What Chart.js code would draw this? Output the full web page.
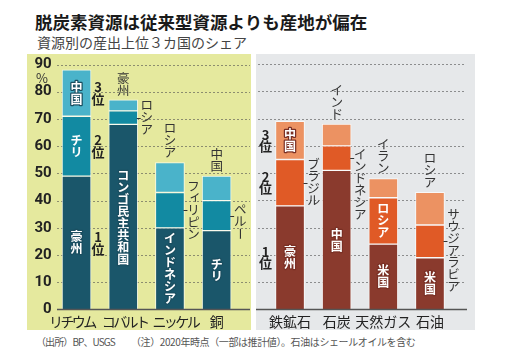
<!DOCTYPE html>
<html><head><meta charset="utf-8">
<script src="https://cdn.jsdelivr.net/npm/chart.js@4"></script>
<style>
html,body{margin:0;padding:0;background:#fff;width:512px;height:357px;overflow:hidden;font-family:"Noto Sans CJK JP",sans-serif;}
#title{position:absolute;left:35px;top:12px;font-size:17.5px;font-weight:bold;line-height:20px;color:#1a1a1a;white-space:nowrap;}
#subtitle{position:absolute;left:37px;top:33px;font-size:14px;line-height:18px;color:#444;white-space:nowrap;}
.panel{position:absolute;top:54px;height:276px;}
#pl{left:27px;width:224px;background:#e5e99e;}
#pr{left:256px;width:219px;background:#e6e8ea;}
.foot{position:absolute;top:335px;font-size:10px;line-height:14px;color:#555;white-space:nowrap;letter-spacing:-0.4px}
canvas{display:block}
</style></head><body>
<div id="title">脱炭素資源は従来型資源よりも産地が偏在</div>
<div id="subtitle">資源別の産出上位３カ国のシェア</div>
<div class="panel" id="pl"><canvas id="cl" width="224" height="276"></canvas></div>
<div class="panel" id="pr"><canvas id="cr" width="219" height="276"></canvas></div>
<div class="foot" style="left:36px;letter-spacing:-0.9px">（出所）BP、USGS</div>
<div class="foot" style="left:131px">（注）2020年時点（一部は推計値）。石油はシェールオイルを含む</div>
<script>
// ---- data ----
const yTicks = [0,10,20,30,40,50,60,70,80,90];
const rankLabels = ['1位','2位','3位'];
const leftCategories = ['リチウム','コバルト','ニッケル','銅'];
const leftRank1 = [49, 68, 30, 29];
const leftRank2 = [22, 5, 13, 11];
const leftRank3 = [17, 4, 11, 9];
const leftCountry1 = ['豪州','コンゴ民主共和国','インドネシア','チリ'];
const leftCountry2 = ['チリ','ロシア','フィリピン','ペルー'];
const leftCountry3 = ['中国','豪州','ロシア','中国'];
const rightCategories = ['鉄鉱石','石炭','天然ガス','石油'];
const rightRank1 = [38, 51, 24, 19];
const rightRank2 = [17, 9, 17, 12];
const rightRank3 = [14, 8, 7, 12];
const rightCountry1 = ['豪州','中国','米国','米国'];
const rightCountry2 = ['ブラジル','インドネシア','ロシア','サウジアラビア'];
const rightCountry3 = ['中国','インド','イラン','ロシア'];

const FONT = '"Noto Sans CJK JP", "Noto Sans", sans-serif';
const SMALL = 'ァィゥェォッャュョ';
const KATA = /^[\u30A0-\u30FF]+$/;

function drawVert(ctx, text, cx, top, step, stroke){
  Array.from(text).forEach((ch,i)=>{
    const cy = top + step*(i+0.5);
    ctx.save();
    ctx.translate(cx, cy);
    if (ch === 'ー') ctx.rotate(Math.PI/2);
    else if (SMALL.includes(ch)) ctx.translate(step*0.14, -step*0.14);
    if (stroke) ctx.strokeText(ch,0,0);
    ctx.fillText(ch,0,0);
    ctx.restore();
  });
}

function makeChart(id, cats, r1, r2, r3, names, colors, o){
  const deco = {
    id:'deco'+id,
    beforeDatasetsDraw(chart){
      const ctx = chart.ctx, y = chart.scales.y;
      ctx.save();
      ctx.setLineDash([2,2]);
      ctx.strokeStyle = 'rgba(80,80,80,0.6)';
      ctx.lineWidth = 1;
      yTicks.forEach(v=>{
        if (v === 0) return;
        const py = Math.round(y.getPixelForValue(v)) + 0.5;
        ctx.beginPath(); ctx.moveTo(o.grid[0], py); ctx.lineTo(o.grid[1], py); ctx.stroke();
      });
      ctx.restore();
    },
    afterDatasetsDraw(chart){
      const ctx = chart.ctx, y = chart.scales.y, x = chart.scales.x;
      ctx.save();
      ctx.strokeStyle = '#555'; ctx.lineWidth = 1.5;
      const p0 = y.getPixelForValue(0);
      ctx.beginPath(); ctx.moveTo(o.base[0], p0); ctx.lineTo(o.base[1], p0); ctx.stroke();
      ctx.textAlign = 'center'; ctx.textBaseline = 'middle';
      // category labels, placed by the x scale
      ctx.fillStyle = '#222';
      ctx.font = '14px ' + FONT;
      x.getLabels().forEach((lab, i)=>{
        const kata = KATA.test(lab);
        ctx.letterSpacing = kata ? '-2.6px' : '0px';
        ctx.fillText(lab, x.getPixelForValue(i) + o.catShift[i] + (kata ? 1.3 : 0), p0 + 12.5);
      });
      ctx.letterSpacing = '0px';
      if (o.percent){
        ctx.fillStyle = '#333';
        ctx.font = '13px ' + FONT;
        ctx.fillText('%', 15, y.getPixelForValue(90) + 14);
      }
      const step = 12;
      [0,1,2].forEach(d=>{
        const meta = chart.getDatasetMeta(d);
        meta.data.forEach((el, i)=>{
          const name = names[d][i];
          const n = Array.from(name).length;
          const top = Math.min(el.y, el.base), bot = Math.max(el.y, el.base);
          const h = bot - top, mid = (top + bot)/2;
          const half = el.width/2;
          if (d === 0 || n*step + 6 <= h){
            ctx.font = 'bold 12px ' + FONT;
            ctx.fillStyle = '#fff';
            ctx.strokeStyle = o.dark; ctx.lineWidth = 2.5; ctx.lineJoin = 'round';
            drawVert(ctx, name, el.x, mid - n*step/2, step, d !== 1);
          } else if (d === 1){
            ctx.strokeStyle = '#333'; ctx.lineWidth = 1;
            ctx.beginPath(); ctx.moveTo(el.x + half - 1, Math.round(mid)+0.5); ctx.lineTo(el.x + half + 3, Math.round(mid)+0.5); ctx.stroke();
            ctx.font = '12.5px ' + FONT; ctx.fillStyle = '#333';
            drawVert(ctx, name, el.x + half + 9, mid + o.nudge[i] - n*step/2, step, false);
          } else {
            ctx.font = '12.5px ' + FONT; ctx.fillStyle = '#333';
            drawVert(ctx, name, el.x, top - 4 - n*step, step, false);
          }
          if (i === 0){
            const rx = o.rankSide === 'right' ? el.x + half + 7 : el.x - half - 10;
            const lab = Array.from(rankLabels[d]);
            ctx.font = 'bold 13px ' + FONT; ctx.fillStyle = '#222';
            ctx.fillText(lab[0], rx, mid - 5.75);
            ctx.fillText(lab[1], rx, mid + 5.75);
          }
        });
      });
      ctx.restore();
    }
  };
  const sets = [r1, r2, r3].map((arr, k)=>({
    data: arr, backgroundColor: colors[k],
    borderColor: 'rgba(255,255,255,0.7)', borderWidth: 1, borderSkipped: false,
    barThickness: 29
  }));
  return new Chart(document.getElementById(id), {
    type: 'bar',
    data: { labels: cats, datasets: sets },
    options: {
      responsive: false, animation: false, devicePixelRatio: 1,
      layout: { padding: { left: o.padL, right: o.padR, top: 10, bottom: 0 } },
      plugins: { legend: { display: false }, tooltip: { enabled: false } },
      scales: {
        x: { stacked: true, grid: { display: false, drawTicks: false }, border: { display: false },
             ticks: { display: false },
             afterFit(s){ s.height = 20.4; } },
        y: { stacked: true, display: o.showY, min: 0, max: 90,
             grid: { display: false, drawTicks: false }, border: { display: false },
             afterBuildTicks(s){ s.ticks = yTicks.map(v=>({value:v})); },
             ticks: { font: { family: 'Roboto', size: 15, weight: 'bold' }, color: '#222', padding: 1.5 },
             afterFit(s){ s.width = o.showY ? 26.2 : 0; } }
      }
    },
    plugins: [deco]
  });
}

makeChart('cl', leftCategories, leftRank1, leftRank2, leftRank3,
  [leftCountry1, leftCountry2, leftCountry3],
  ['#1a566a', '#128aa2', '#4ab3ca'],
  { padL: 0, padR: 11, showY: true, rankSide: 'right', grid: [30, 223], base: [30, 223],
    nudge: [0, 0, 0, 6], catShift: [-6, 0, 4, 0], dark: '#1a4e60', percent: true });
makeChart('cr', rightCategories, rightRank1, rightRank2, rightRank3,
  [rightCountry1, rightCountry2, rightCountry3],
  ['#8a3a2d', '#e05a26', '#ec9262'],
  { padL: 10.7, padR: 21.7, showY: false, rankSide: 'left', grid: [2, 210], base: [0, 211],
    nudge: [0, 26, 0, 9], catShift: [0, 0, 0, 0], dark: '#7a3025', percent: false });
</script>
</body></html>
